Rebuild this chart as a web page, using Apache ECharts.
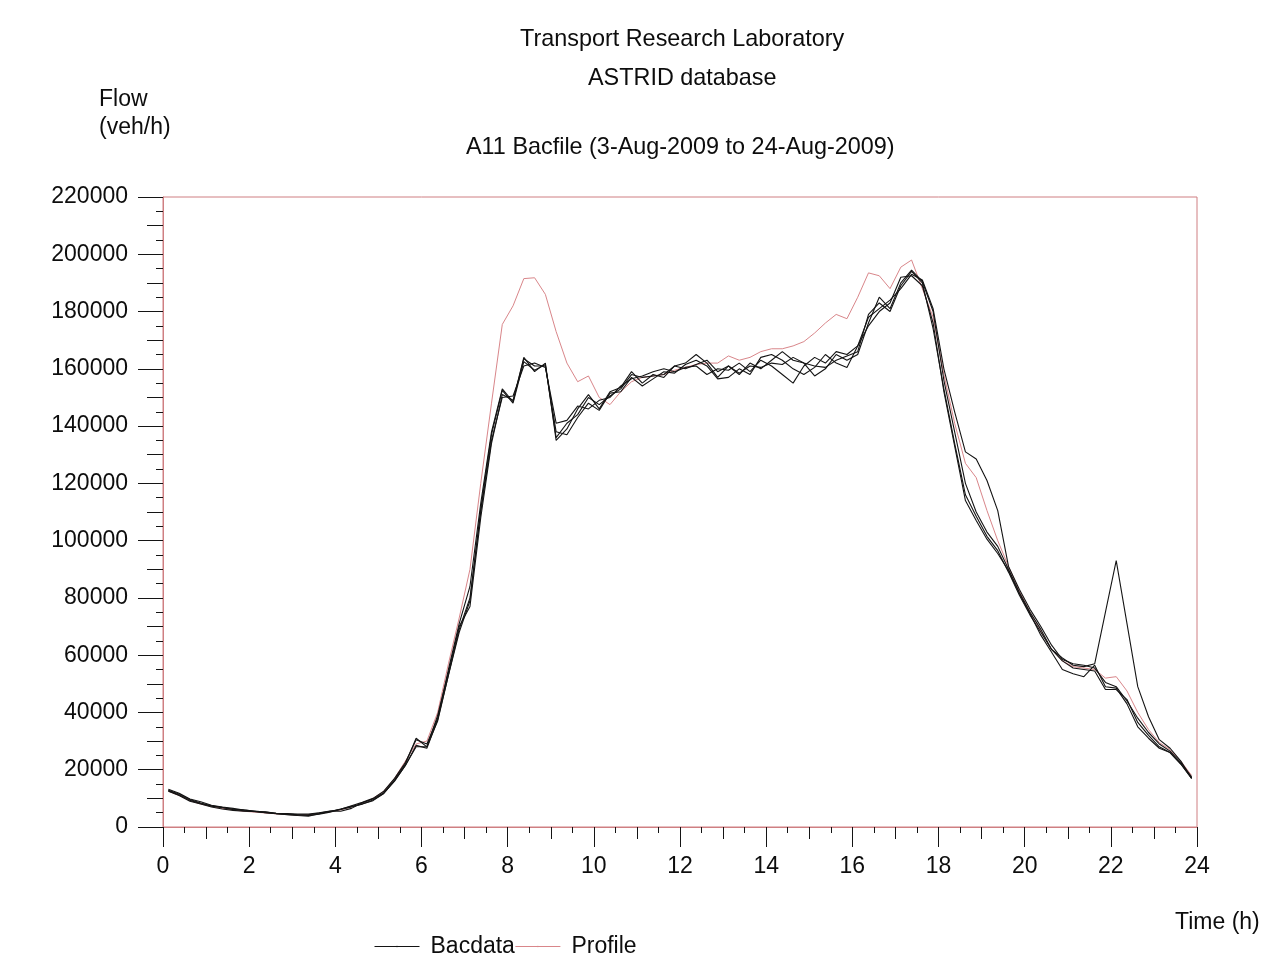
<!DOCTYPE html>
<html>
<head>
<meta charset="utf-8">
<title>A11 Bacfile flow profile</title>
<script src="https://cdn.jsdelivr.net/npm/echarts@6/dist/echarts.min.js"></script>
<style>
  html, body { margin: 0; padding: 0; background: #ffffff; }
  #chart { width: 1278px; height: 955px; }
</style>
</head>
<body>
<div id="chart"></div>
<script>
// 15-minute counting periods, plotted at the middle of each period (hours)
const periodStart = 0;
const periodLength = 0.25;
const periodCount = 96;
const timeOfDay = Array.from({ length: periodCount }, (_, i) => periodStart + periodLength * (i + 0.5));

// Axis tick labels
const flowTicks = [0, 20000, 40000, 60000, 80000, 100000, 120000, 140000, 160000, 180000, 200000, 220000];
const hourTicks = [0, 2, 4, 6, 8, 10, 12, 14, 16, 18, 20, 22, 24];

// Daily Bacdata flows (veh/h), one array per day
const bacdataDay1 = [
  13200, 11800, 9800, 8800, 7600, 7000, 6500, 5900, 5600, 5200, 4800, 4600,
  4300, 4000, 4500, 5200, 6200, 7400, 8600, 10000, 12500, 17000, 22500, 30500,
  29000, 38000, 55000, 71000, 84000, 113000, 138000, 153000, 148500, 164000, 159000, 162000,
  135000, 139000, 146000, 151000, 146000, 152000, 153500, 159000, 155000, 158000, 157000, 161000,
  162000, 165000, 162000, 157000, 161000, 158000, 162000, 160000, 163000, 166000, 163000, 162000,
  157500, 160000, 165000, 163000, 165000, 176000, 185000, 181000, 190000, 194500, 190500, 180000,
  156000, 138000, 120000, 110000, 103000, 98000, 90000, 82000, 75000, 69000, 62000, 59000,
  56500, 56000, 57000, 75000, 93000, 71000, 49000, 38500, 30500, 27500, 23000, 17000
];
const bacdataDay2 = [
  12700, 11200, 9300, 8200, 7300, 6700, 6100, 5700, 5300, 5000, 4700, 4300,
  4100, 4300, 4900, 5500, 6100, 7000, 8000, 9400, 11800, 16000, 21500, 28000,
  28000, 37000, 53000, 69000, 80000, 110000, 135000, 150000, 150500, 161000, 162000, 160500,
  141000, 142000, 147000, 146000, 149000, 150000, 154000, 156500, 157500, 159000, 160000, 159000,
  160500, 161000, 158000, 160000, 159500, 162000, 159000, 163000, 161000, 158000, 155000, 161000,
  164000, 162000, 166000, 165000, 168000, 178000, 181000, 184000, 188000, 193000, 191000, 181000,
  160000, 145000, 131000, 128500, 121000, 110500, 91000, 83000, 76000, 70000, 63500, 58500,
  57000, 56500, 55500, 50500, 49000, 44000, 38000, 33000, 29000, 26500, 22500, 17500
];
const bacdataDay3 = [
  12500, 11000, 9000, 8000, 7000, 6300, 5800, 5500, 5400, 5300, 4800, 4700,
  4500, 4500, 5000, 5600, 5500, 6500, 8500, 9800, 12000, 16500, 22000, 31000,
  28000, 39000, 54000, 70000, 77000, 108000, 134000, 151000, 149000, 163500, 161000, 161000,
  138000, 137000, 143000, 148000, 145500, 151500, 152000, 157000, 154000, 156500, 159000, 158500,
  161500, 163000, 161000, 156500, 157000, 160000, 158000, 164000, 165000, 163000, 160000, 158000,
  160500, 165000, 162000, 160500, 168000, 175000, 180000, 183000, 192000, 192500, 189000, 176000,
  152000, 133000, 114000, 107000, 100500, 95500, 89500, 81500, 74500, 67000, 61000, 55000,
  53500, 52500, 56500, 49000, 48500, 43000, 35000, 31000, 27500, 26000, 22000, 17000
];
const bacdataDay4 = [
  12800, 11500, 9600, 8400, 7400, 6900, 6200, 6000, 5500, 5000, 4600, 4400,
  4000, 3800, 4600, 5400, 6300, 7200, 8000, 9200, 11700, 16200, 21500, 28500,
  27500, 37500, 53000, 68000, 79000, 111000, 137000, 152500, 148000, 162500, 159500, 161500,
  136000, 141000, 144000, 150000, 147500, 150500, 153000, 158000, 157000, 157500, 158000, 161000,
  160000, 161500, 163000, 159000, 161000, 158500, 161000, 160500, 162000, 161500, 164000, 162000,
  161000, 160500, 163000, 164500, 166000, 179000, 183000, 180000, 189000, 194000, 190000, 174000,
  153000, 134000, 116000, 108500, 101500, 96500, 89000, 81000, 74000, 68000, 62000, 58000,
  55500, 55000, 54500, 48000, 48000, 44500, 36500, 32000, 28000, 26000, 22000, 17000
];

// Profile flow (veh/h)
const profileFlow = [
  12500, 11000, 9200, 8000, 7200, 6500, 6000, 5500, 5200, 4900, 4600, 4400,
  4200, 4300, 4700, 5300, 6000, 7000, 8300, 10000, 12500, 17000, 23000, 29000,
  30000, 40000, 57000, 73000, 90000, 120000, 148000, 175500, 182000, 191500, 191800, 186000,
  173000, 162000, 155500, 157500, 150000, 147500, 152000, 155500, 157000, 157500, 158000, 159500,
  160500, 161500, 162000, 162000, 164500, 163000, 164000, 166000, 167000, 167000, 168000, 169500,
  172500, 176000, 179000, 177500, 185000, 193500, 192500, 188000, 195500, 198000, 188000, 178000,
  158000, 141000, 127000, 122000, 110500, 100000, 91000, 82500, 75000, 68500, 62000, 58000,
  56000, 55500, 55000, 52000, 52500, 47500, 40000, 34000, 29500, 27000, 23000, 18000
];

const bacdataDays = [bacdataDay1, bacdataDay2, bacdataDay3, bacdataDay4];

const FONT = "'Liberation Sans', Arial, Helvetica, sans-serif";
const TEXT = '#0d0d0d';
const FRAME = '#cf7f82';
const INK = '#141414';
const PROFILE = '#d9868a';

const pairs = values => values.map((v, i) => [timeOfDay[i], v]);

const chart = echarts.init(document.getElementById('chart'), null, { renderer: 'canvas' });

const bacSeries = bacdataDays.map(day => ({
  name: 'Bacdata',
  type: 'line',
  data: pairs(day),
  symbol: 'none',
  lineStyle: { color: INK, width: 1.1 },
  itemStyle: { color: INK },
  silent: true
}));

const option = {
  backgroundColor: '#ffffff',
  animation: false,
  textStyle: { fontFamily: FONT },
  grid: {
    left: 163, right: 81, top: 197, bottom: 128,
    show: true, borderColor: FRAME, borderWidth: 1, backgroundColor: 'transparent'
  },
  legend: {
    data: ['Bacdata', 'Profile'],
    left: 369, top: 930,
    itemWidth: 45, itemHeight: 2, itemGap: 0,
    lineStyle: { width: 1 },
    textStyle: { fontFamily: FONT, fontSize: 23, color: TEXT, padding: [0, 0, 0, 6] },
    selectedMode: false
  },
  xAxis: [
    {
      type: 'value', min: 0, max: 24, interval: 2,
      axisLine: { show: true, lineStyle: { color: FRAME, width: 1 } },
      axisTick: { show: true, length: 20, inside: false, lineStyle: { color: INK, width: 1 } },
      minorTick: { show: true, splitNumber: 4, length: 6, lineStyle: { color: INK, width: 1 } },
      axisLabel: {
        margin: 28, fontFamily: FONT, fontSize: 23, color: TEXT,
        formatter: v => (hourTicks.includes(v) ? String(v) : '')
      },
      splitLine: { show: false }
    },
    {
      // hourly marks between the labelled two-hour ticks
      type: 'value', min: 0, max: 24, interval: 1, position: 'bottom',
      axisLine: { show: false },
      axisTick: { show: true, length: 12, lineStyle: { color: INK, width: 1 } },
      axisLabel: { show: false },
      splitLine: { show: false }
    }
  ],
  yAxis: [
    {
      type: 'value', min: 0, max: 220000, interval: 20000,
      axisLine: { show: true, lineStyle: { color: FRAME, width: 1 } },
      axisTick: { show: true, length: 25, lineStyle: { color: INK, width: 1 } },
      minorTick: { show: true, splitNumber: 4, length: 7, lineStyle: { color: INK, width: 1 } },
      axisLabel: {
        margin: 35, fontFamily: FONT, fontSize: 23, color: TEXT,
        formatter: v => (flowTicks.includes(v) ? String(v) : '')
      },
      splitLine: { show: false }
    },
    {
      // 10000 veh/h marks between the labelled ticks
      type: 'value', min: 0, max: 220000, interval: 10000, position: 'left',
      axisLine: { show: false },
      axisTick: { show: true, length: 16, lineStyle: { color: INK, width: 1 } },
      axisLabel: { show: false },
      splitLine: { show: false }
    }
  ],
  series: [
    ...bacSeries,
    {
      name: 'Profile',
      type: 'line',
      data: pairs(profileFlow),
      symbol: 'none',
      lineStyle: { color: PROFILE, width: 1 },
      itemStyle: { color: PROFILE },
      silent: true,
      z: 1
    }
  ],
  graphic: [
    { type: 'text', left: 520, top: 28, style: { text: 'Transport Research Laboratory', font: `23.4px ${FONT}`, fill: TEXT } },
    { type: 'text', left: 588, top: 67, style: { text: 'ASTRID database', font: `23.4px ${FONT}`, fill: TEXT } },
    { type: 'text', left: 466, top: 136, style: { text: 'A11 Bacfile (3-Aug-2009 to 24-Aug-2009)', font: `23.4px ${FONT}`, fill: TEXT } },
    { type: 'text', left: 99, top: 88, style: { text: 'Flow', font: `23px ${FONT}`, fill: TEXT } },
    { type: 'text', left: 99, top: 116, style: { text: '(veh/h)', font: `23px ${FONT}`, fill: TEXT } },
    { type: 'text', left: 1175, top: 911, style: { text: 'Time (h)', font: `23px ${FONT}`, fill: TEXT } }
  ]
};

chart.setOption(option);
</script>
</body>
</html>
